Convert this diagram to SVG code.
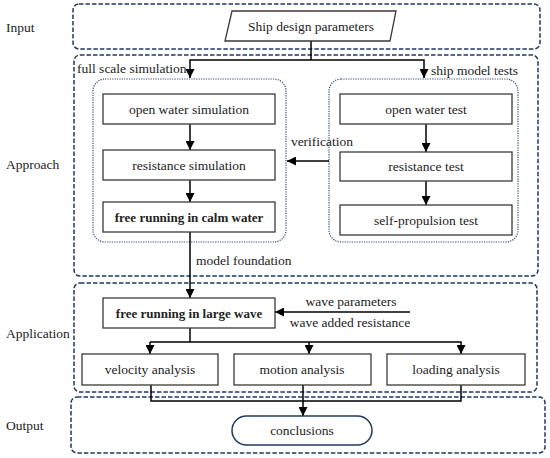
<svg xmlns="http://www.w3.org/2000/svg" width="550" height="458" viewBox="0 0 550 458">
<defs>
<marker id="ah" viewBox="0 0 10 10" refX="10" refY="5" markerWidth="9" markerHeight="9" markerUnits="userSpaceOnUse" orient="auto">
<path d="M0,0 L10,5 L0,10 z" fill="#000"/>
</marker>
<style>
.stage{fill:none;stroke:#1f3864;stroke-width:1.5;stroke-dasharray:4.5,2}
.grp{fill:none;stroke:#2f4a7a;stroke-width:1.2;stroke-dasharray:1.2,1.2}
.box{fill:#fff;stroke:#3a3a3a;stroke-width:1.3}
text{font-family:'Liberation Serif','Times New Roman',serif;font-size:13.5px;fill:#222}
.t{text-anchor:middle}
.b{font-weight:bold;font-size:13px}
.c{fill:none;stroke:#000;stroke-width:1.5}
.ca{fill:none;stroke:#000;stroke-width:1.5;marker-end:url(#ah)}
</style>
</defs>
<rect width="550" height="458" fill="#fff"/>

<g id="stages">
<rect class="stage" x="73" y="4" width="467" height="45" rx="6"/>
<rect class="stage" x="74" y="55" width="464" height="221" rx="6"/>
<rect class="stage" x="74" y="283" width="463" height="109" rx="6"/>
<rect class="stage" x="71" y="397" width="474" height="56" rx="6"/>
<text x="6" y="32">Input</text>
<text x="6" y="169">Approach</text>
<text x="6" y="338">Application</text>
<text x="6" y="430">Output</text>
</g>

<g id="groups">
<rect class="grp" x="93" y="79" width="193" height="163" rx="12"/>
<rect class="grp" x="329" y="79" width="189" height="163" rx="12"/>
</g>

<g id="connectors">
<path class="c" d="M311,41 V60"/>
<path class="ca" d="M311,60 H190 V78"/>
<path class="ca" d="M311,60 H424 V78"/>
<path class="ca" d="M190,124 V150"/>
<path class="ca" d="M190,180 V202"/>
<path class="ca" d="M426,124 V152"/>
<path class="ca" d="M426,181 V205"/>
<path class="ca" d="M329,161 H287"/>
<path class="ca" d="M190,232 V298"/>
<path class="ca" d="M410,312 H275"/>
<path class="c" d="M190,328 V342"/>
<path class="ca" d="M150,342 H461 V354"/>
<path class="ca" d="M150,342 V354"/>
<path class="ca" d="M309,342 V354"/>
<path class="c" d="M151,385 V401 H461 V385"/>
<path class="ca" d="M303,385 V416"/>
<text x="77" y="73">full scale simulation</text>
<text x="431" y="75">ship model tests</text>
<text class="t" x="322" y="146">verification</text>
<text x="196" y="265">model foundation</text>
<text class="t" x="351" y="306">wave parameters</text>
<text class="t" x="350" y="327">wave added resistance</text>
</g>

<g id="n-input">
<polygon points="232,11 396,11 390,41 225,41" fill="#fff" stroke="#3a3a3a" stroke-width="1.3"/>
<text class="t" x="311" y="31">Ship design parameters</text>
</g>

<g id="n-ows">
<rect class="box" x="103" y="94" width="172" height="30"/>
<text class="t" x="189" y="114">open water simulation</text>
</g>
<g id="n-rs">
<rect class="box" x="103" y="150" width="172" height="30"/>
<text class="t" x="189" y="170">resistance simulation</text>
</g>
<g id="n-frcw">
<rect class="box" x="103" y="202" width="172" height="30"/>
<text class="t b" x="189" y="222">free running in calm water</text>
</g>

<g id="n-owt">
<rect class="box" x="340" y="94" width="172" height="30"/>
<text class="t" x="426" y="114">open water test</text>
</g>
<g id="n-rt">
<rect class="box" x="340" y="152" width="172" height="29"/>
<text class="t" x="426" y="171">resistance test</text>
</g>
<g id="n-spt">
<rect class="box" x="340" y="205" width="172" height="30"/>
<text class="t" x="426" y="225">self-propulsion test</text>
</g>

<g id="n-frlw">
<rect class="box" x="103" y="298" width="172" height="30"/>
<text class="t b" x="189" y="318">free running in large wave</text>
</g>

<g id="n-va">
<rect class="box" x="82" y="354" width="136" height="31"/>
<text class="t" x="150" y="374">velocity analysis</text>
</g>
<g id="n-ma">
<rect class="box" x="234" y="354" width="137" height="31"/>
<text class="t" x="302" y="374">motion analysis</text>
</g>
<g id="n-la">
<rect class="box" x="387" y="354" width="138" height="31"/>
<text class="t" x="456" y="374">loading analysis</text>
</g>

<g id="n-conc">
<rect x="232" y="416" width="140" height="29" rx="14.5" fill="#fff" stroke="#1f3864" stroke-width="1.5"/>
<text class="t" x="302" y="435">conclusions</text>
</g>
</svg>
